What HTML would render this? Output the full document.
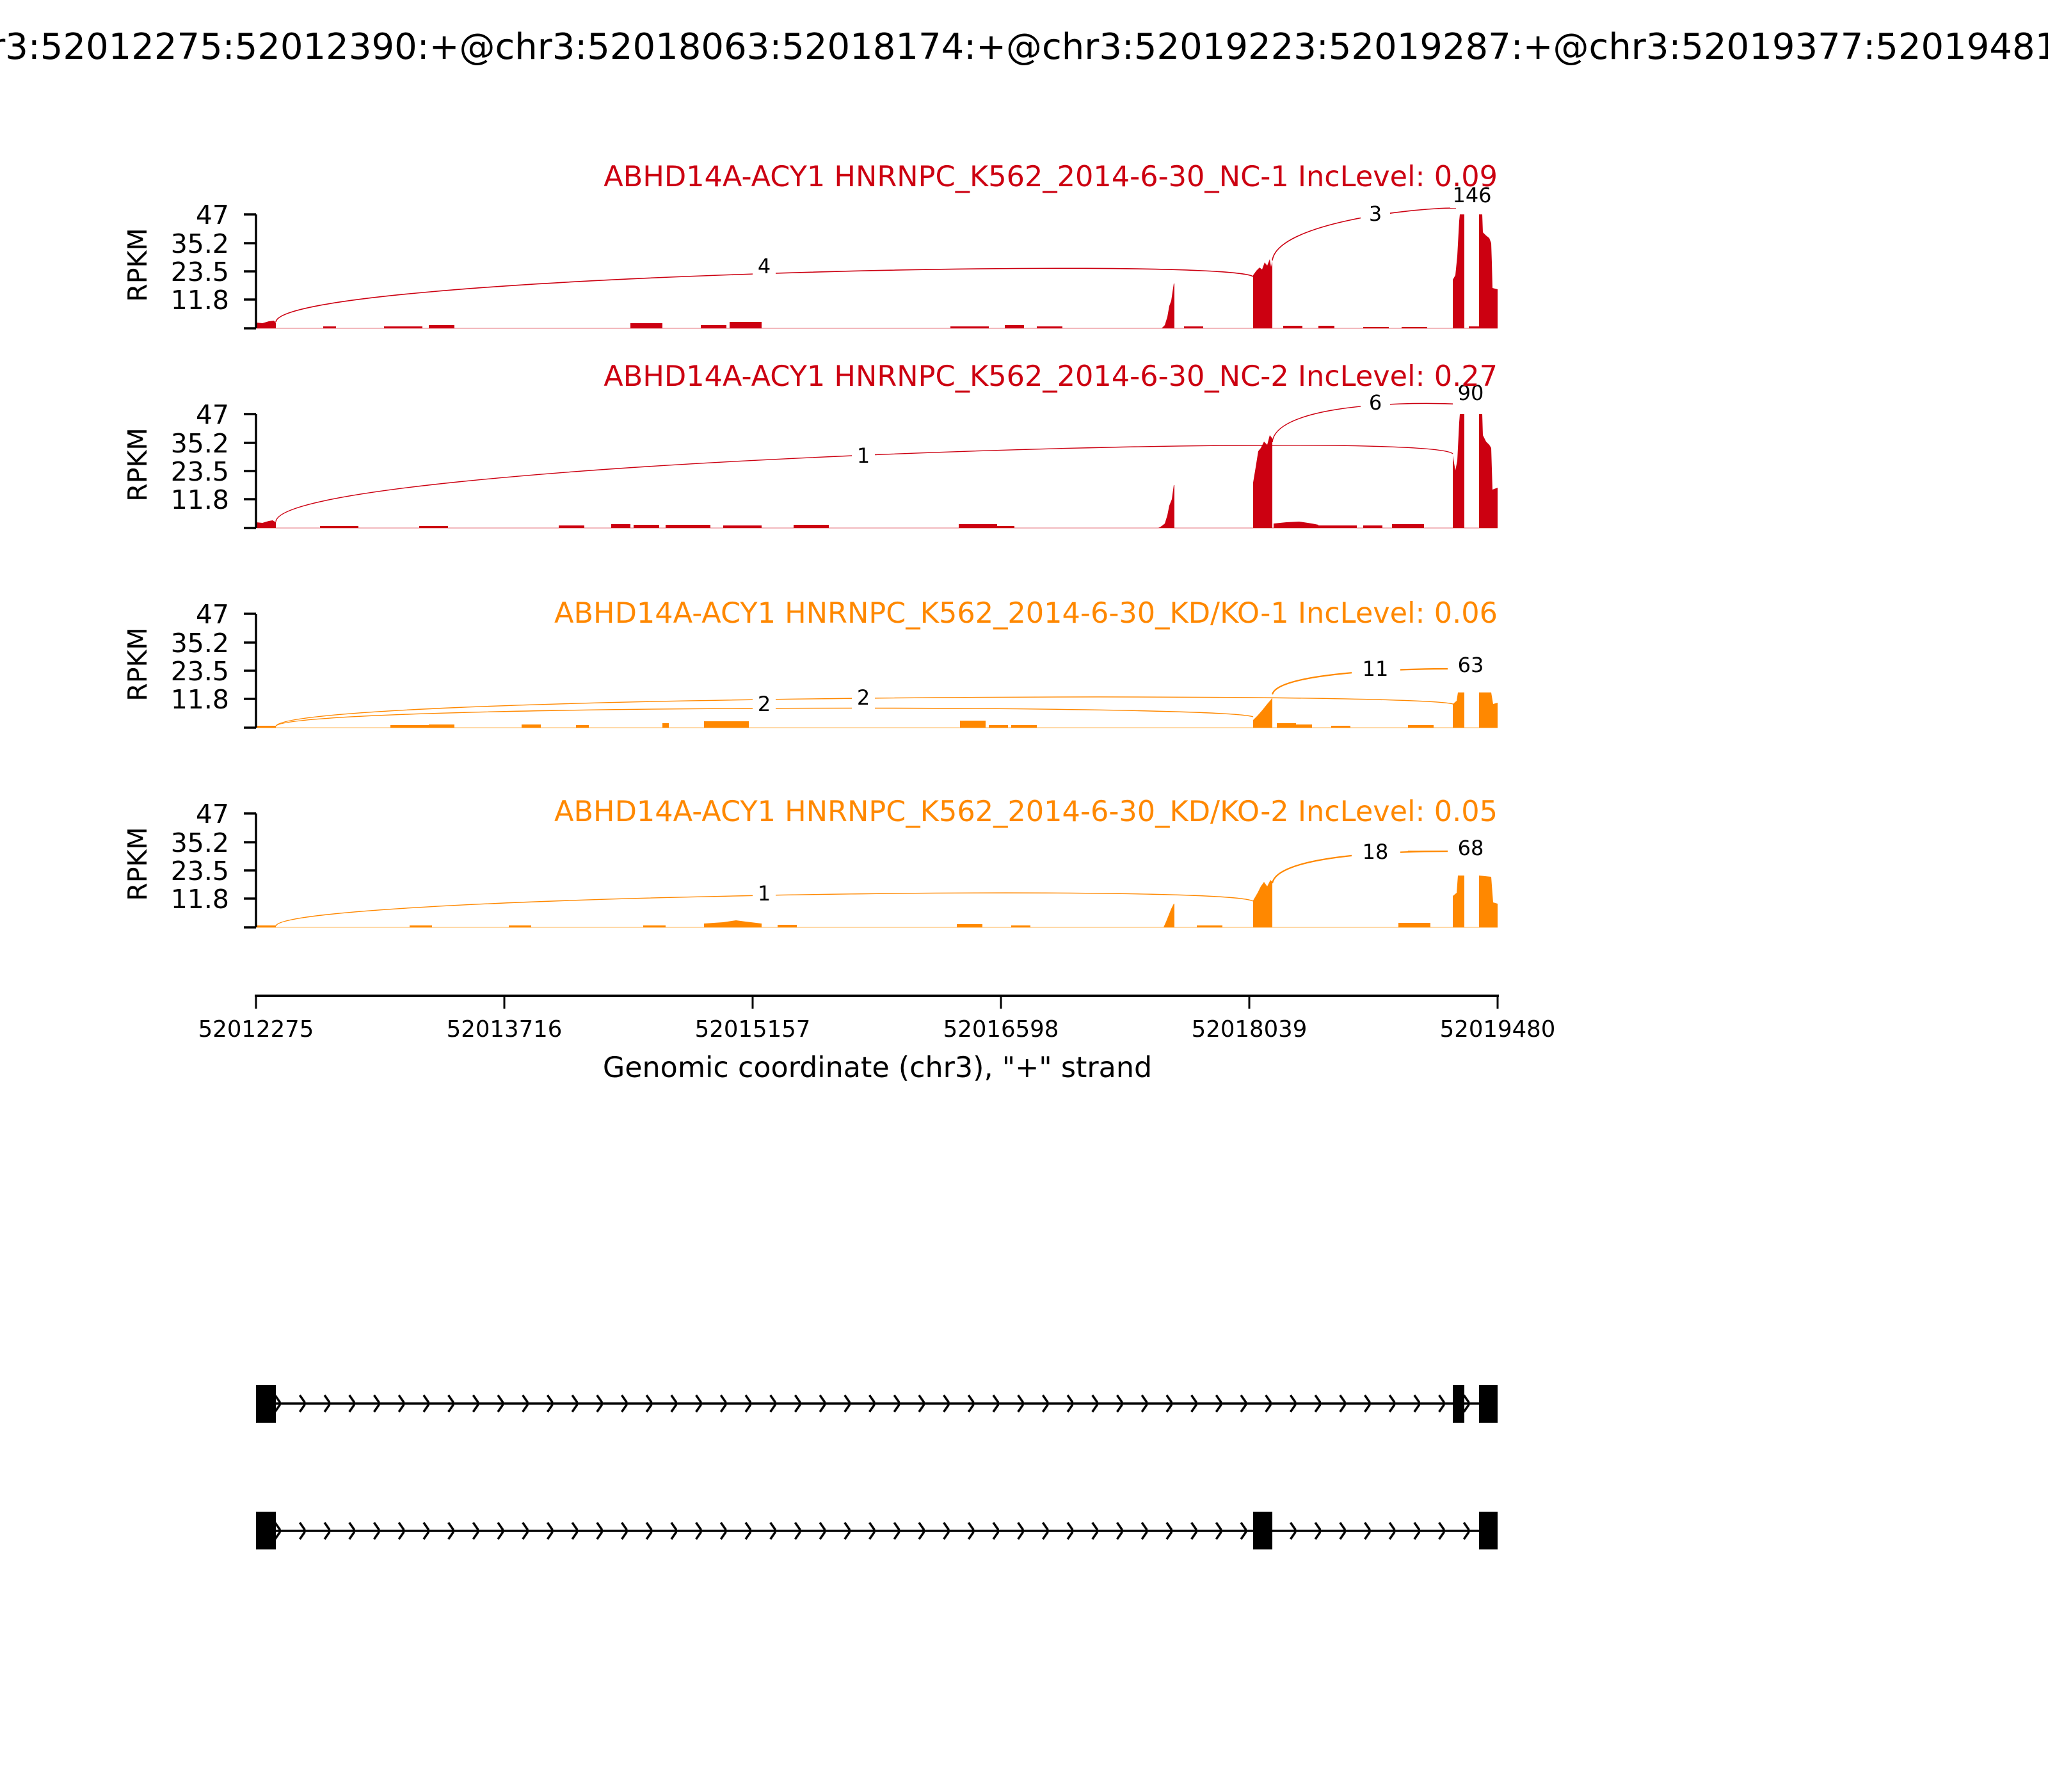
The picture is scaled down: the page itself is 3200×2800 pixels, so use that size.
<!DOCTYPE html>
<html><head><meta charset="utf-8"><style>html,body{margin:0;padding:0;background:#fff}svg{display:block}</style></head>
<body>
<svg width="3200" height="2800" xmlns="http://www.w3.org/2000/svg" font-family="DejaVu Sans, Liberation Sans, sans-serif">
<defs>
<pattern id="chev" patternUnits="userSpaceOnUse" x="400" y="2150" width="38.7" height="100">
<polyline points="29.7,30 38.7,43 29.7,56" fill="none" stroke="#000" stroke-width="3.5"/>
</pattern>
<pattern id="chev2" patternUnits="userSpaceOnUse" x="400" y="2349" width="38.7" height="100">
<polyline points="29.7,30 38.7,43 29.7,56" fill="none" stroke="#000" stroke-width="3.5"/>
</pattern>
</defs>
<rect width="3200" height="2800" fill="#fff"/>
<text x="1600" y="92" font-size="56" text-anchor="middle">chr3:52012275:52012390:+@chr3:52018063:52018174:+@chr3:52019223:52019287:+@chr3:52019377:52019481:+</text>

<!-- Panel 1 -->
<g>
<line x1="400" y1="513" x2="2340" y2="513" stroke="#f2b8bd" stroke-width="2"/>
<g fill="#CC0011">
<polygon points="400,513 400,504 410,505 420,502 428,501 431,504 431,513"/>
<rect x="505" y="510" width="20" height="3"/><rect x="600" y="510" width="60" height="3"/><rect x="670" y="508" width="40" height="5"/>
<rect x="985" y="505" width="50" height="8"/><rect x="1095" y="508" width="40" height="5"/><rect x="1140" y="503" width="50" height="10"/>
<rect x="1485" y="510" width="60" height="3"/><rect x="1570" y="508" width="30" height="5"/><rect x="1620" y="510" width="40" height="3"/>
<rect x="1850" y="510" width="30" height="3"/><rect x="2005" y="509" width="30" height="4"/><rect x="2060" y="509" width="25" height="4"/>
<rect x="2130" y="511" width="40" height="2"/><rect x="2190" y="511" width="40" height="2"/><rect x="2295" y="510" width="16" height="3"/>
<polygon points="1815,513 1820,508 1824,495 1827,478 1830,470 1834,443 1835,443 1835,513"/>
<polygon points="1958,513 1958,430 1963,423 1968,418 1972,421 1976,410 1980,415 1984,405 1986,417 1988,408 1988,513"/>
<polygon points="2270,513 2270,437 2274,430 2277,400 2280,345 2281,335 2288,335 2288,513"/>
<polygon points="2311,513 2311,335 2316,335 2317,363 2322,368 2327,372 2330,380 2331,410 2332,450 2340,452 2340,513"/>
</g>
<g fill="none" stroke="#CC0011" stroke-width="1.6">
<path d="M431,503 C440,430 1900,400 1958,432"/>
<path d="M1988,407 C1995,350 2200,325 2275,325"/>
</g>
<rect x="1176" y="398" width="36" height="36" fill="#fff"/><text x="1194" y="427" font-size="32" text-anchor="middle">4</text>
<rect x="2126" y="314" width="46" height="40" fill="#fff"/><text x="2149" y="345" font-size="32" text-anchor="middle">3</text>
<rect x="2266" y="293" width="68" height="32" fill="#fff"/><text x="2300" y="316" font-size="32" text-anchor="middle">146</text>
<text x="2340" y="291" font-size="44.6" fill="#CC0011" text-anchor="end">ABHD14A-ACY1 HNRNPC_K562_2014-6-30_NC-1 IncLevel: 0.09</text>
</g>

<!-- Panel 2 -->
<g>
<line x1="400" y1="825" x2="2340" y2="825" stroke="#f2b8bd" stroke-width="2"/>
<g fill="#CC0011">
<polygon points="400,825 400,816 410,817 420,814 426,813 431,816 431,825"/>
<rect x="500" y="822" width="30" height="3"/><rect x="530" y="822" width="30" height="3"/><rect x="655" y="822" width="45" height="3"/>
<rect x="873" y="821" width="40" height="4"/><rect x="955" y="819" width="30" height="6"/><rect x="990" y="820" width="40" height="5"/>
<rect x="1040" y="820" width="30" height="5"/><rect x="1070" y="820" width="40" height="5"/><rect x="1130" y="821" width="60" height="4"/>
<rect x="1240" y="820" width="55" height="5"/><rect x="1498" y="819" width="60" height="6"/><rect x="1555" y="822" width="30" height="3"/>
<polygon points="1990,825 1990,818 2010,816 2030,815 2050,818 2060,820 2060,825"/>
<rect x="2060" y="821" width="30" height="4"/><rect x="2090" y="821" width="30" height="4"/><rect x="2130" y="821" width="30" height="4"/><rect x="2175" y="819" width="50" height="6"/>
<polygon points="1810,825 1815,822 1820,818 1824,805 1827,790 1831,780 1834,758 1835,758 1835,825"/>
<polygon points="1958,825 1958,754 1962,730 1966,705 1970,700 1975,690 1980,695 1984,680 1988,685 1988,825"/>
<polygon points="2270,825 2270,712 2274,735 2277,720 2280,660 2281,647 2288,647 2288,825"/>
<polygon points="2311,825 2311,647 2316,647 2317,680 2322,690 2327,695 2330,700 2332,765 2340,762 2340,825"/>
</g>
<g fill="none" stroke="#CC0011" stroke-width="1.4">
<path d="M431,815 C440,720 2230,670 2270,709"/>
<path d="M1988,691 C1992,640 2150,625 2295,632"/>
</g>
<rect x="1331" y="694" width="36" height="36" fill="#fff"/><text x="1349" y="723" font-size="32" text-anchor="middle">1</text>
<rect x="2126" y="609" width="46" height="40" fill="#fff"/><text x="2149" y="640" font-size="32" text-anchor="middle">6</text>
<rect x="2270" y="605" width="56" height="29" fill="#fff"/><text x="2298" y="625" font-size="32" text-anchor="middle">90</text>
<text x="2340" y="603" font-size="44.6" fill="#CC0011" text-anchor="end">ABHD14A-ACY1 HNRNPC_K562_2014-6-30_NC-2 IncLevel: 0.27</text>
</g>

<!-- Panel 3 -->
<g>
<text x="2340" y="973" font-size="44.6" fill="#FF8800" text-anchor="end">ABHD14A-ACY1 HNRNPC_K562_2014-6-30_KD/KO-1 IncLevel: 0.06</text>
<line x1="400" y1="1137" x2="2340" y2="1137" stroke="#ffd9a8" stroke-width="2"/>
<g fill="#FF8800">
<rect x="400" y="1134" width="31" height="3"/>
<rect x="610" y="1133" width="60" height="4"/><rect x="670" y="1132" width="40" height="5"/><rect x="815" y="1132" width="30" height="5"/>
<rect x="900" y="1133" width="20" height="4"/><rect x="1035" y="1130" width="10" height="7"/><rect x="1100" y="1127" width="70" height="10"/>
<rect x="1500" y="1126" width="40" height="11"/><rect x="1545" y="1133" width="30" height="4"/><rect x="1580" y="1133" width="40" height="4"/>
<rect x="1995" y="1130" width="30" height="7"/><rect x="2025" y="1132" width="25" height="5"/><rect x="2080" y="1134" width="30" height="3"/>
<rect x="2200" y="1133" width="40" height="4"/>
<polygon points="1958,1137 1958,1125 1965,1118 1972,1110 1980,1100 1986,1093 1988,1090 1988,1137"/>
<polygon points="2270,1137 2270,1100 2276,1095 2278,1082 2288,1082 2288,1137"/>
<polygon points="2311,1137 2311,1082 2330,1082 2333,1100 2340,1098 2340,1137"/>
</g>
<g fill="none" stroke="#FF8800" stroke-width="1.4">
<path d="M431,1135 C440,1100 1900,1100 1958,1120"/>
<path d="M431,1135 C440,1085 2200,1080 2270,1100"/>
<path d="M1988,1085 C1995,1055 2150,1045 2270,1045" stroke-width="2.2"/>
</g>
<rect x="1176" y="1082" width="36" height="36" fill="#fff"/><text x="1194" y="1111" font-size="32" text-anchor="middle">2</text>
<rect x="1331" y="1072" width="36" height="36" fill="#fff"/><text x="1349" y="1101" font-size="32" text-anchor="middle">2</text>
<rect x="2112" y="1025" width="76" height="40" fill="#fff"/><text x="2149" y="1056" font-size="32" text-anchor="middle">11</text>
<rect x="2262" y="1019" width="72" height="40" fill="#fff"/><text x="2298" y="1050" font-size="32" text-anchor="middle">63</text>
</g>

<!-- Panel 4 -->
<g>
<text x="2340" y="1283" font-size="44.6" fill="#FF8800" text-anchor="end">ABHD14A-ACY1 HNRNPC_K562_2014-6-30_KD/KO-2 IncLevel: 0.05</text>
<line x1="400" y1="1449" x2="2340" y2="1449" stroke="#ffd9a8" stroke-width="2"/>
<g fill="#FF8800">
<rect x="400" y="1446" width="31" height="3"/>
<rect x="640" y="1446" width="35" height="3"/><rect x="795" y="1446" width="35" height="3"/><rect x="1005" y="1446" width="35" height="3"/>
<polygon points="1100,1449 1100,1443 1130,1441 1150,1438 1165,1440 1190,1443 1190,1449"/>
<rect x="1215" y="1445" width="30" height="4"/><rect x="1495" y="1444" width="40" height="5"/><rect x="1580" y="1446" width="30" height="3"/>
<rect x="1870" y="1446" width="40" height="3"/><rect x="2185" y="1442" width="50" height="7"/>
<polygon points="1818,1449 1822,1440 1826,1430 1830,1420 1834,1412 1835,1412 1835,1449"/>
<polygon points="1958,1449 1958,1407 1965,1395 1970,1385 1975,1378 1980,1385 1985,1375 1988,1378 1988,1449"/>
<polygon points="2270,1449 2270,1400 2276,1395 2278,1368 2288,1368 2288,1449"/>
<polygon points="2311,1449 2311,1368 2330,1370 2333,1410 2340,1412 2340,1449"/>
</g>
<g fill="none" stroke="#FF8800" stroke-width="1.4">
<path d="M431,1447 C440,1400 1900,1380 1958,1408"/>
<path d="M1988,1380 C1995,1340 2150,1330 2270,1330" stroke-width="2.2"/>
<path d="M2200,1330 L2270,1330"/>
</g>
<rect x="1176" y="1378" width="36" height="36" fill="#fff"/><text x="1194" y="1407" font-size="32" text-anchor="middle">1</text>
<rect x="2112" y="1311" width="76" height="40" fill="#fff"/><text x="2149" y="1342" font-size="32" text-anchor="middle">18</text>
<rect x="2262" y="1305" width="72" height="40" fill="#fff"/><text x="2298" y="1336" font-size="32" text-anchor="middle">68</text>
</g>

<!-- Y axes -->
<g stroke="#000" stroke-width="3.5" fill="none">
<path d="M400,335 V513 M381,335 H400 M381,380 H400 M381,424 H400 M381,468 H400 M381,513 H400"/>
<path d="M400,647 V825 M381,647 H400 M381,692 H400 M381,736 H400 M381,780 H400 M381,825 H400"/>
<path d="M400,959 V1137 M381,959 H400 M381,1004 H400 M381,1048 H400 M381,1092 H400 M381,1137 H400"/>
<path d="M400,1271 V1449 M381,1271 H400 M381,1316 H400 M381,1360 H400 M381,1404 H400 M381,1449 H400"/>
</g>
<g font-size="41" text-anchor="end">
<text x="358" y="350">47</text><text x="358" y="395">35.2</text><text x="358" y="439">23.5</text><text x="358" y="483">11.8</text>
<text x="358" y="662">47</text><text x="358" y="707">35.2</text><text x="358" y="751">23.5</text><text x="358" y="795">11.8</text>
<text x="358" y="974">47</text><text x="358" y="1019">35.2</text><text x="358" y="1063">23.5</text><text x="358" y="1107">11.8</text>
<text x="358" y="1286">47</text><text x="358" y="1331">35.2</text><text x="358" y="1375">23.5</text><text x="358" y="1419">11.8</text>
</g>
<g font-size="41" text-anchor="middle">
<text transform="translate(229,414) rotate(-90)">RPKM</text>
<text transform="translate(229,726) rotate(-90)">RPKM</text>
<text transform="translate(229,1038) rotate(-90)">RPKM</text>
<text transform="translate(229,1350) rotate(-90)">RPKM</text>
</g>

<!-- X axis -->
<g stroke="#000" fill="none">
<line x1="398" y1="1556" x2="2342" y2="1556" stroke-width="4"/>
<path d="M400,1556 V1576 M788,1556 V1576 M1176,1556 V1576 M1564,1556 V1576 M1952,1556 V1576 M2340,1556 V1576" stroke-width="3"/>
</g>
<g font-size="35.5" text-anchor="middle">
<text x="400" y="1620">52012275</text><text x="788" y="1620">52013716</text><text x="1176" y="1620">52015157</text>
<text x="1564" y="1620">52016598</text><text x="1952" y="1620">52018039</text><text x="2340" y="1620">52019480</text>
</g>
<text x="1371" y="1683" font-size="44.4" text-anchor="middle">Genomic coordinate (chr3), "+" strand</text>

<!-- Gene models -->
<line x1="400" y1="2193" x2="2340" y2="2193" stroke="#000" stroke-width="3.5"/>
<rect x="431" y="2150" width="1880" height="90" fill="url(#chev)"/>
<rect x="400" y="2164" width="31" height="59" fill="#000"/>
<rect x="2270" y="2164" width="18" height="59" fill="#000"/>
<rect x="2311" y="2164" width="29" height="59" fill="#000"/>

<line x1="400" y1="2392" x2="2340" y2="2392" stroke="#000" stroke-width="3.5"/>
<rect x="431" y="2349" width="1880" height="90" fill="url(#chev2)"/>
<rect x="400" y="2362" width="31" height="59" fill="#000"/>
<rect x="1958" y="2362" width="30" height="59" fill="#000"/>
<rect x="2311" y="2362" width="29" height="59" fill="#000"/>
</svg>
</body></html>
